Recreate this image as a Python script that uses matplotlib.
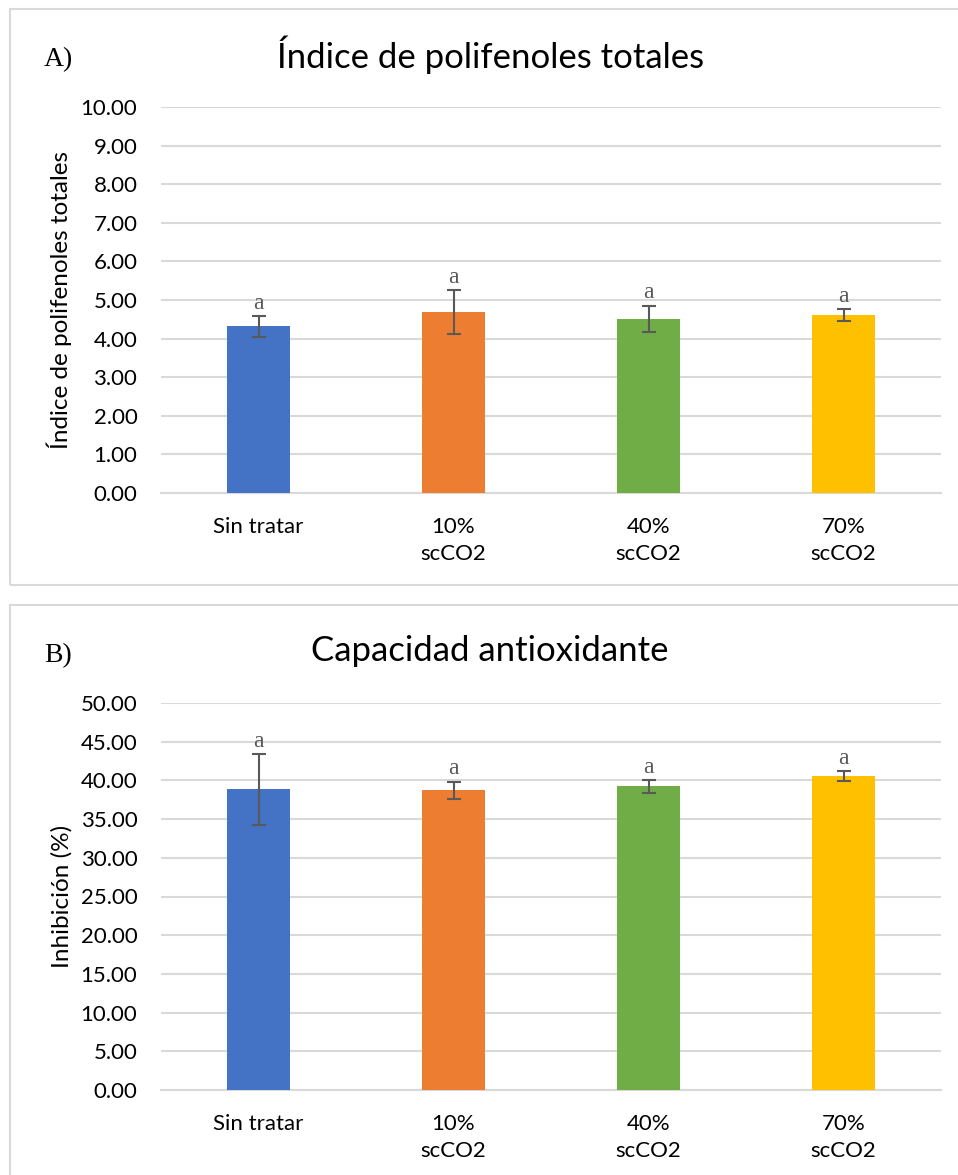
import numpy as np
import matplotlib
matplotlib.use("Agg")
import matplotlib.pyplot as plt
from matplotlib.patches import Rectangle

# data
categories = ["Sin tratar", "10%\nscCO2", "40%\nscCO2", "70%\nscCO2"]
colors = ["#4472C4", "#ED7D31", "#70AD47", "#FFC000"]

ipt_mean = [4.32, 4.68, 4.51, 4.61]
ipt_err = [0.27, 0.57, 0.34, 0.16]
ipt_letters = ["a", "a", "a", "a"]

inh_mean = [38.83, 38.72, 39.22, 40.52]
inh_err = [4.55, 1.10, 0.82, 0.63]
inh_letters = ["a", "a", "a", "a"]

plt.rcParams['font.family'] = ['Lato', 'DejaVu Sans']

W, H = 958, 1175
fig = plt.figure(figsize=(W / 100, H / 100), dpi=100)

def fx(px):
    return px / W

def fy(py):
    return 1 - py / H

# panel frames
for top, bot in [(9, 585), (605, 1190)]:
    fig.patches.append(Rectangle((fx(10), fy(bot)), fx(970) - fx(10), fy(top) - fy(bot),
                                 transform=fig.transFigure, fill=False,
                                 edgecolor="#D9D9D9", linewidth=1.5))

def draw_panel(ax, means, errs, letters, ymax, step, ylabel):
    x = np.arange(len(categories))
    ax.bar(x, means, width=0.32, color=colors, zorder=3)
    ax.errorbar(x, means, yerr=errs, fmt="none", ecolor="#595959",
                elinewidth=1.5, capsize=5, capthick=1.5, zorder=4)
    for xi, m, e, l in zip(x, means, errs, letters):
        ax.text(xi, m + e + ymax * 0.006, l, ha="center", va="bottom",
                family="Liberation Serif", fontsize=17, color="#595959", zorder=5)
    ax.set_xlim(-0.5, len(categories) - 0.5)
    ax.set_ylim(0, ymax)
    ticks = np.arange(0, ymax + step / 2, step)
    ax.set_yticks(ticks)
    ax.set_yticklabels([f"{t:.2f}" for t in ticks])
    ax.set_xticks(x)
    ax.set_xticklabels(categories, linespacing=1.45)
    ax.yaxis.grid(True, color="#D9D9D9", linewidth=1.5, zorder=0)
    for s in ["top", "right", "left"]:
        ax.spines[s].set_visible(False)
    ax.spines["bottom"].set_color("#D9D9D9")
    ax.spines["bottom"].set_linewidth(1.5)
    ax.tick_params(axis="both", length=0, labelsize=16, colors="#000000")
    ax.tick_params(axis="y", pad=17)
    ax.tick_params(axis="x", pad=17)
    ax.set_ylabel(ylabel, fontsize=17.5)

axA = fig.add_axes([fx(161), fy(493), fx(941) - fx(161), fy(107) - fy(493)])
draw_panel(axA, ipt_mean, ipt_err, ipt_letters, 10, 1, "Índice de polifenoles totales")
axA.yaxis.set_label_coords(-0.114, 0.5)

axB = fig.add_axes([fx(161), fy(1090), fx(941) - fx(161), fy(703) - fy(1090)])
draw_panel(axB, inh_mean, inh_err, inh_letters, 50, 5, "Inhibición (%)")
axB.yaxis.set_label_coords(-0.114, 0.5)

fig.text(fx(491), fy(55), "Índice de polifenoles totales", ha="center", va="center", fontsize=25)
fig.text(fx(490), fy(651), "Capacidad antioxidante", ha="center", va="center", fontsize=25)
fig.text(fx(44), fy(60), "A)", ha="left", va="center", family="Liberation Serif", fontsize=20)
fig.text(fx(44), fy(656), "B)", ha="left", va="center", family="Liberation Serif", fontsize=20)

fig.savefig("out.png", dpi=100)
